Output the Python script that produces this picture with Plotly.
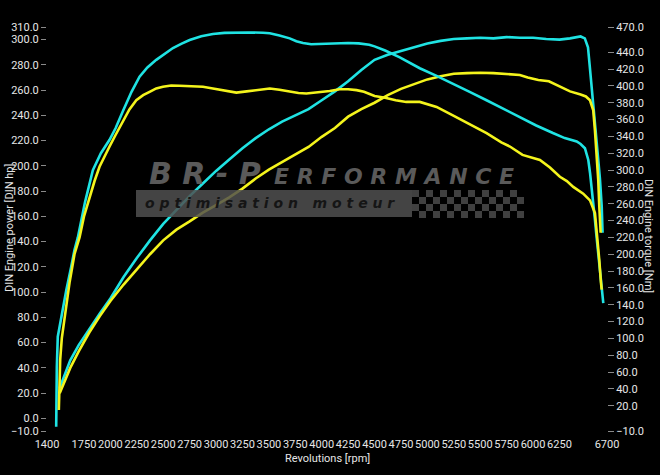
import plotly.graph_objects as go

# ---------------- data ----------------
# Tuned (cyan) power [DIN hp] vs rpm
rpm_tuned_power = [1520, 1560, 1620, 1700, 1800, 1900, 2000, 2125, 2250, 2375, 2500, 2625, 2750,
                   2875, 3000, 3125, 3250, 3375, 3500, 3625, 3750, 3875, 4000, 4125, 4250, 4375,
                   4500, 4625, 4750, 4875, 5000, 5125, 5250, 5375, 5500, 5625, 5750, 5875, 6000,
                   6125, 6250, 6350, 6450, 6490, 6520, 6540, 6555, 6570, 6586, 6602, 6617, 6633,
                   6650, 6658]
hp_tuned = [24, 33, 46, 58, 71, 83, 95, 112, 127, 141, 154, 165, 176,
            186, 196, 205, 214, 222, 229, 235, 240, 245, 252, 259, 267, 276,
            284, 288, 291, 294, 297, 299, 300.5, 301, 301.5, 301, 302, 301.5, 301.5,
            300.5, 300, 301, 302.5, 301, 294, 276, 263, 250, 236, 223, 205, 190,
            168, 147]

# Tuned (cyan) torque [Nm] vs rpm
rpm_tuned_torque = [1487, 1488, 1493, 1502, 1535, 1582, 1629, 1660, 1692, 1760, 1834, 1910, 1992,
                    2050, 2118, 2200, 2276, 2350, 2434, 2510, 2592, 2670, 2750, 2860, 2970, 3080,
                    3192, 3300, 3444, 3508, 3600, 3697, 3760, 3823, 3900, 3981, 4076, 4170, 4250,
                    4350, 4450, 4500, 4600, 4739, 4830, 4928, 5087, 5241, 5400, 5560, 5700, 5876,
                    6030, 6188, 6300, 6413, 6450, 6491, 6523, 6540, 6555, 6570, 6586, 6600, 6617,
                    6633, 6650, 6665]
nm_tuned = [-5, 27, 66, 102, 125, 157, 185, 205, 220, 262, 300, 320, 336,
            350, 370, 393, 411, 422, 431, 438, 445, 450, 454.5, 459, 461.7, 463,
            463.5, 463.5, 463.2, 462.5, 460, 456.5, 453, 451, 449.5, 449.8, 450.6, 451, 451,
            450.5, 449, 447, 442, 434, 428, 421, 412, 403, 393, 383, 374, 363,
            353, 344, 338, 334, 331, 326, 312, 296, 280, 262, 241, 222, 201,
            183, 165, 142]

# Stock (yellow) power [DIN hp] vs rpm
rpm_stock_power = [1520, 1560, 1620, 1700, 1800, 1900, 2000, 2125, 2250, 2375, 2500, 2625, 2750,
                   2875, 3000, 3125, 3250, 3375, 3500, 3625, 3750, 3875, 4000, 4125, 4250, 4375,
                   4500, 4625, 4750, 4875, 5000, 5125, 5250, 5375, 5500, 5625, 5750, 5875, 5950,
                   6050, 6150, 6250, 6350, 6450, 6500, 6539, 6570, 6586, 6602, 6617, 6627, 6640]
hp_stock = [20, 28, 40, 53, 68, 81, 93, 106, 118, 130, 141, 149.5, 156,
            163, 169, 175, 182, 190, 197, 203, 209, 215, 223, 230, 239, 245,
            250, 256, 261, 265, 268.5, 271, 273, 273.5, 273.8, 273.5, 273, 272, 270,
            268, 267, 263, 259, 256.5, 255, 252, 244, 228, 210, 189, 168, 147]

# Stock (yellow) torque [Nm] vs rpm
rpm_stock_torque = [1512, 1515, 1525, 1540, 1566, 1613, 1660, 1708, 1750, 1803, 1850, 1897, 1950,
                    1992, 2050, 2118, 2180, 2245, 2310, 2371, 2434, 2497, 2575, 2655, 2750, 2876,
                    2970, 3065, 3192, 3290, 3381, 3508, 3600, 3697, 3780, 3855, 3960, 4076, 4170,
                    4250, 4330, 4400, 4500, 4600, 4700, 4800, 4928, 5087, 5241, 5400, 5560, 5700,
                    5781, 5900, 6065, 6160, 6254, 6320, 6381, 6475, 6539, 6586, 6608, 6627, 6643,
                    6650]
nm_stock = [15, 45, 75, 100, 125, 166, 200, 220, 245, 268, 287, 304, 318,
            328, 342, 358, 372, 383, 389, 393, 397, 399, 400.5, 400.2, 400, 399,
            397, 395, 392, 393.5, 395, 397, 395.5, 393, 391.5, 391, 392, 394, 396,
            396, 395, 393, 388, 386, 383, 381, 381, 375, 365, 355, 344, 333,
            328, 318, 312, 303, 292, 287, 280, 272, 264, 249, 221, 193, 166,
            158]

# Axis ticks
x_ticks = [1400, 1750, 2000, 2250, 2500, 2750, 3000, 3250, 3500, 3750, 4000, 4250, 4500,
           4750, 5000, 5250, 5500, 5750, 6000, 6250, 6700]
x_grid_start, x_grid_step = 1500, 250
left_ticks = [-10, 0, 20, 40, 60, 80, 100, 120, 140, 160, 180, 200, 220, 240, 260, 280, 300, 310]
left_grid_step = 20
right_ticks = [-10, 20, 40, 60, 80, 100, 120, 140, 160, 180, 200, 220, 240, 260, 280, 300,
               320, 340, 360, 380, 400, 420, 440, 470]
x_range = [1400, 6700]
left_range = [-10, 310]
right_range = [-10, 470]

# ---------------- styling ----------------
CYAN = "#1fe3e3"
YELLOW = "#f4f41c"
GRID = "#5e5e5e"
TXT = "#e6e6e6"
FONT = "Roboto, Liberation Sans, sans-serif"
ML, MR, MT, MB = 47, 53, 27, 44
PW, PH = 660 - ML - MR, 475 - MT - MB


def px(xpix):
    return (xpix - ML) / PW


def py(ypix):
    return (475 - MB - ypix) / PH


fig = go.Figure()
fig.add_trace(go.Scatter(x=rpm_tuned_power, y=hp_tuned, mode="lines",
                         line=dict(color=CYAN, width=2.6), xaxis="x", yaxis="y",
                         name="Power tuned"))
fig.add_trace(go.Scatter(x=rpm_stock_power, y=hp_stock, mode="lines",
                         line=dict(color=YELLOW, width=2.6), xaxis="x", yaxis="y",
                         name="Power stock"))
fig.add_trace(go.Scatter(x=rpm_tuned_torque, y=nm_tuned, mode="lines",
                         line=dict(color=CYAN, width=2.6), xaxis="x", yaxis="y2",
                         name="Torque tuned"))
fig.add_trace(go.Scatter(x=rpm_stock_torque, y=nm_stock, mode="lines",
                         line=dict(color=YELLOW, width=2.6), xaxis="x", yaxis="y2",
                         name="Torque stock"))

tickfont = dict(family=FONT, size=11, color=TXT)

shapes = []
# grey band of the watermark logo
band_fill = "rgba(80,80,80,0.85)"
shapes.append(dict(type="rect", xref="paper", yref="paper", layer="above",
                   x0=px(136), x1=px(412), y0=py(217), y1=py(190),
                   fillcolor=band_fill, line=dict(width=0)))
# checkered flag part of the logo
sq = 7
for r in range(4):
    for c in range(16):
        if (r + c) % 2 == 0:
            x0 = 412 + c * sq
            y0 = 190 + r * sq
            shapes.append(dict(type="rect", xref="paper", yref="paper", layer="above",
                               x0=px(x0), x1=px(x0 + sq), y0=py(y0 + sq), y1=py(y0),
                               fillcolor="rgba(80,80,80,0.8)", line=dict(width=0)))


def ann(text, x, y, size, color, family=FONT, angle=0, opacity=1.0):
    return dict(text=text, xref="paper", yref="paper", x=px(x), y=py(y),
                xanchor="center", yanchor="middle", textangle=angle,
                showarrow=False, opacity=opacity,
                font=dict(family=family, size=size, color=color))


annotations = [
    ann("DIN Engine power [DIN hp]", 9, 228, 11, TXT, angle=-90),
    ann("DIN Engine torque [Nm]", 649, 236, 11, TXT, angle=90),
    ann("Revolutions [rpm]", 327, 458, 11, TXT),
    ann("<b><i>B R - P</i></b>", 205, 173, 30, "#6a6a6a", family="DejaVu Sans", opacity=0.85),
    ann("<b><i>E R F O R M A N C E</i></b>", 394, 176, 22, "#6a6a6a", family="DejaVu Sans",
        opacity=0.85),
    ann("<b><i>o p t i m i s a t i o n &nbsp; m o t e u r</i></b>", 270, 203, 14, "#151515",
        family="DejaVu Sans"),
]

fig.update_layout(
    template="none",
    width=660, height=475,
    margin=dict(l=ML, r=MR, t=MT, b=MB, autoexpand=False),
    paper_bgcolor="black", plot_bgcolor="black",
    showlegend=False,
    xaxis=dict(range=x_range, tickmode="array", tickvals=x_ticks,
               ticktext=[str(v) for v in x_ticks], showgrid=False, zeroline=False,
               showline=False, ticks="outside", ticklen=3, tickcolor="rgba(0,0,0,0)",
               tickangle=0, automargin=False, tickfont=tickfont),
    xaxis2=dict(range=x_range, overlaying="x", anchor="y", side="bottom",
                tickmode="linear", tick0=x_grid_start, dtick=x_grid_step,
                showgrid=True, gridcolor=GRID, griddash="dot", gridwidth=1,
                showticklabels=False, ticks="", zeroline=False, showline=False,
                automargin=False),
    yaxis=dict(range=left_range, tickmode="array", tickvals=left_ticks, tickformat=".1f",
               showgrid=False, zeroline=False, showline=False, ticks="outside",
               ticklen=5, tickcolor="#8a8a8a", tickfont=tickfont, automargin=False),
    yaxis3=dict(range=left_range, overlaying="y", anchor="x", side="left",
                tickmode="linear", tick0=0, dtick=left_grid_step,
                showgrid=True, gridcolor=GRID, griddash="dot", gridwidth=1,
                showticklabels=False, ticks="", zeroline=False, showline=False,
                automargin=False),
    yaxis2=dict(range=right_range, overlaying="y", anchor="x", side="right",
                tickmode="array", tickvals=right_ticks, tickformat=".1f",
                showgrid=False, zeroline=False, showline=False, ticks="outside",
                ticklen=6, tickcolor="#8a8a8a", tickfont=tickfont, automargin=False),
    shapes=shapes,
    annotations=annotations,
)

fig.write_html("out.html",
               config={"displayModeBar": False},
               post_script="document.body.style.margin='0px';"
                           "document.body.style.background='black';")
